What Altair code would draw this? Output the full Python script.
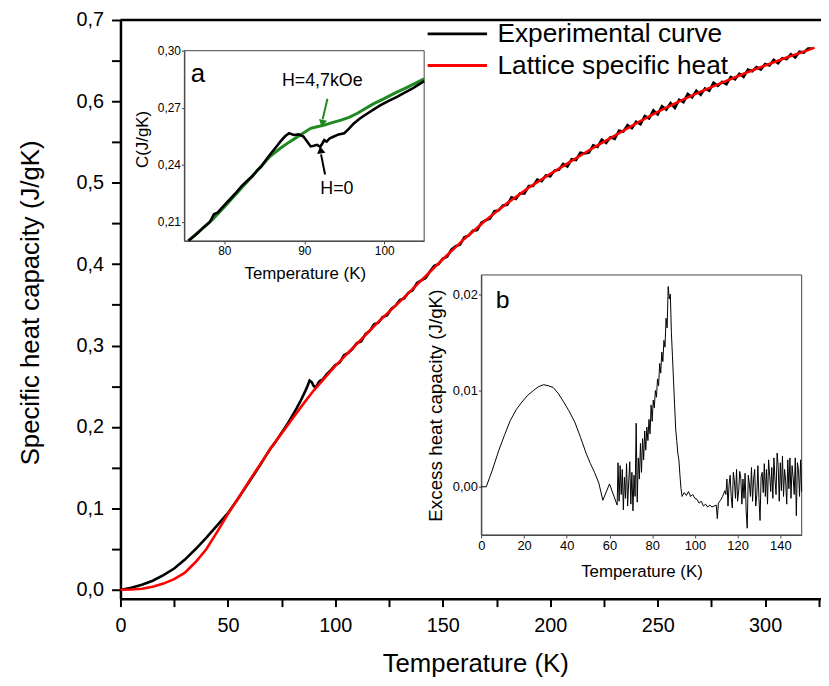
import altair as alt
import pandas as pd

FONT = "Liberation Sans"
W, H = 707, 584

# ---------------- main chart data ----------------
T_exp_low = [0, 2, 5, 10, 15, 20, 25, 30, 35, 40, 45, 50, 55, 58, 60, 62, 65, 68, 70, 72, 73,
             75, 78, 80, 82, 84, 86, 87, 88, 89, 90, 90.7, 91.5, 92, 93, 94, 96, 98]
C_exp_low = [0, 0.0008, 0.0025, 0.006, 0.011, 0.018, 0.026, 0.037, 0.050, 0.064, 0.079, 0.094,
             0.113, 0.125, 0.133, 0.141, 0.153, 0.166, 0.174, 0.181, 0.185,
             0.193, 0.205, 0.214, 0.223, 0.233, 0.244, 0.250, 0.257, 0.255, 0.250, 0.249, 0.251,
             0.254, 0.257, 0.258, 0.265, 0.270]
T_exp_high = list(range(100, 324, 2))
C_exp_high = [0.276, 0.279, 0.288, 0.291, 0.296, 0.303, 0.305, 0.314, 0.318, 0.326,
              0.328, 0.335, 0.337, 0.345, 0.349, 0.356, 0.358, 0.365, 0.368, 0.377,
              0.380, 0.383, 0.391, 0.398, 0.400, 0.407, 0.409, 0.418, 0.422, 0.424,
              0.433, 0.435, 0.441, 0.442, 0.451, 0.454, 0.456, 0.465, 0.466, 0.472,
              0.473, 0.482, 0.480, 0.487, 0.487, 0.496, 0.496, 0.504, 0.502, 0.509,
              0.508, 0.515, 0.516, 0.523, 0.520, 0.529, 0.528, 0.537, 0.536, 0.537,
              0.546, 0.544, 0.553, 0.549, 0.556, 0.554, 0.564, 0.563, 0.571, 0.567,
              0.575, 0.572, 0.582, 0.579, 0.589, 0.584, 0.594, 0.590, 0.598, 0.592,
              0.602, 0.599, 0.609, 0.605, 0.613, 0.608, 0.616, 0.613, 0.623, 0.619,
              0.624, 0.621, 0.630, 0.627, 0.634, 0.630, 0.639, 0.637, 0.642, 0.639,
              0.646, 0.644, 0.651, 0.647, 0.653, 0.652, 0.658, 0.654, 0.661, 0.660,
              0.665, 0.665]
T_exp = T_exp_low + T_exp_high
C_exp = C_exp_low + C_exp_high

T_lat = [0, 5, 10, 15, 20, 25, 30, 35, 40, 45, 50, 55, 60, 65, 70, 75, 80, 85, 90, 95, 100,
         110, 120, 130, 140, 150, 160, 170, 180, 190, 200, 210, 220, 230, 240, 250, 260, 270,
         280, 290, 300, 310, 320, 323]
C_lat = [0, 0.0003, 0.0012, 0.0035, 0.0075, 0.013, 0.021, 0.034, 0.050, 0.071, 0.093, 0.113,
         0.134, 0.154, 0.174, 0.192, 0.210, 0.228, 0.245, 0.260, 0.275,
         0.302, 0.329, 0.354, 0.380, 0.406, 0.431, 0.454, 0.475, 0.494, 0.511, 0.527, 0.543,
         0.558, 0.573, 0.587, 0.600, 0.612, 0.623, 0.634, 0.644, 0.654, 0.663, 0.666]

series_names = ["Experimental curve", "Lattice specific heat"]
x_ticks_main = [0, 25, 50, 75, 100, 125, 150, 175, 200, 225, 250, 275, 300, 325]
y_ticks_main = [0, 0.05, 0.1, 0.15, 0.2, 0.25, 0.3, 0.35, 0.4, 0.45, 0.5, 0.55, 0.6, 0.65, 0.7]

# ---------------- inset a data ----------------
A_T_black = [75.5, 76.5, 77.5, 78.2, 78.7, 79.2, 79.6, 80.5, 81.5, 82.2, 82.8, 83.5, 84.2, 84.6,
             85.2, 85.7, 86.5, 87.0, 87.6, 88.1, 88.7, 89.3, 89.9, 90.4, 90.8, 91.2, 91.6, 92.0,
             92.3, 92.5, 92.8, 93.2, 93.7, 94.3, 95.0, 95.6, 96.2, 97.0, 97.9, 98.7, 99.5, 100.5,
             101.6, 102.5, 103.5, 104.3, 105.0]
A_C_black = [0.2001, 0.2035, 0.2075, 0.2100, 0.2140, 0.2150, 0.2170, 0.2210, 0.2255, 0.2290,
             0.2314, 0.2340, 0.2375, 0.2390, 0.2425, 0.2453, 0.2495, 0.2522, 0.2550, 0.2566,
             0.2557, 0.2560, 0.2549, 0.2520, 0.2497, 0.2500, 0.2505, 0.2495, 0.2515, 0.2530,
             0.2522, 0.2540, 0.2549, 0.2560, 0.2566, 0.2590, 0.2618, 0.2645, 0.2670, 0.2692,
             0.2713, 0.2735, 0.2757, 0.2778, 0.2800, 0.2822, 0.2840]
A_T_green = [75.5, 77, 78.5, 80, 81.5, 83, 84.5, 85.7, 87.0, 88.2, 89.5, 90.8, 91.6, 92.5, 93.5,
             94.6, 95.6, 96.6, 97.6, 98.7, 100.0, 101.2, 103.0, 105.0]
A_C_green = [0.2000, 0.2055, 0.2112, 0.2178, 0.2248, 0.2318, 0.2388, 0.2444, 0.2487, 0.2522,
             0.2557, 0.2592, 0.2600, 0.2609, 0.2622, 0.2635, 0.2650, 0.2670, 0.2695, 0.2722,
             0.2748, 0.2774, 0.2810, 0.2852]

# ---------------- inset b data ----------------
B_T_smooth = [0, 2.3, 5.1, 8.2, 10.9, 13.6, 16.3, 19.0, 21.7, 24.4, 26.8, 29.1, 31.4, 33.7,
              36.0, 38.3, 41.0, 43.8, 46.5, 49.2, 51.1, 53.0, 55.0, 56.9, 60.0, 63.6]
B_E_smooth = [0, 0, 0.0017, 0.0038, 0.0054, 0.0069, 0.0080, 0.0088, 0.0095, 0.0100, 0.0104,
              0.0106, 0.0105, 0.0103, 0.0097, 0.0089, 0.0079, 0.0067, 0.0051, 0.0034, 0.0024,
              0.0015, 0.0004, -0.0014, 0.0003, -0.0019]
B_T_peak = [64 + 0.5 * i for i in range(50)]
B_E_peak = [0.0025, -0.0015, 0.0022, -0.0008, 0.0018, -0.0024, 0.0010, -0.0012, 0.0024, -0.0020,
            0.0005, 0.0026, -0.0018, 0.0015, -0.0025, 0.0012, -0.0010, 0.0066, -0.0016, 0.0030,
            0.0008, 0.0045, 0.0015, 0.0050, 0.0028, 0.0058, 0.0038, 0.0062, 0.0048, 0.0070,
            0.0055, 0.0085, 0.0068, 0.0090, 0.0082, 0.0100, 0.0093, 0.0112, 0.0105, 0.0128,
            0.0118, 0.0140, 0.0130, 0.0152, 0.0145, 0.0175, 0.0165, 0.0208, 0.0195, 0.0200]
B_T_fall = [89.0, 89.5, 90.0, 90.5, 91.0, 91.5, 92.0, 92.5, 93.0, 93.5, 94, 95, 96, 97, 98, 99,
            100, 101, 102, 103, 104, 105, 106, 107, 108, 109, 110, 110.5, 111, 112, 113, 114, 114.5]
B_E_fall = [0.0160, 0.0135, 0.0110, 0.0085, 0.0060, 0.0048, 0.0035, 0.0028, 0.0012, -0.0002,
            -0.0010, -0.0006, -0.0009, -0.0005, -0.0010, -0.0008, -0.0012, -0.0013, -0.0017,
            -0.0015, -0.0020, -0.0018, -0.0021, -0.0019, -0.0021, -0.0020, -0.0019, -0.0033,
            -0.0017, -0.0014, -0.0010, -0.0004, -0.0008]
B_T_tail = [115 + 0.5 * i for i in range(71)]
B_E_tail = [0.0008, -0.0020, 0.0002, 0.0012, -0.0010, -0.0022, 0.0015, 0.0006, -0.0012, 0.0018,
            -0.0015, -0.0004, 0.0016, 0.0009, -0.0018, 0.0008, -0.0012, 0.0014, -0.0025, -0.0043,
            0.0012, 0.0003, -0.0010, 0.0020, -0.0015, 0.0008, 0.0018, -0.0020, -0.0008, 0.0022,
            -0.0012, -0.0035, 0.0010, 0.0015, -0.0006, 0.0024, -0.0010, 0.0018, -0.0018, 0.0028,
            0.0012, -0.0005, 0.0020, -0.0012, 0.0030, 0.0008, -0.0008, 0.0035, 0.0022, -0.0015,
            0.0025, -0.0004, 0.0032, -0.0010, 0.0018, 0.0006, -0.0018, 0.0028, -0.0002, 0.0030,
            -0.0012, 0.0022, 0.0010, -0.0008, 0.0030, -0.0030, 0.0025, 0.0018, -0.0010, 0.0028,
            -0.0005]
B_T = B_T_smooth + B_T_peak + B_T_fall + B_T_tail
B_E = B_E_smooth + B_E_peak + B_E_fall + B_E_tail

# ---------------- main layer ----------------
main_df = pd.DataFrame({
    "T": T_exp + T_lat,
    "C": C_exp + C_lat,
    "series": [series_names[0]] * len(T_exp) + [series_names[1]] * len(T_lat),
})

comma1 = "replace(format(datum.value, '.1f'), '.', ',')"
main_lines = alt.Chart(main_df).mark_line(strokeWidth=2.6).encode(
    x=alt.X("T:Q", scale=alt.Scale(domain=[0, 326], nice=False, zero=False),
            axis=alt.Axis(orient="bottom", values=x_ticks_main,
                          labelExpr="datum.value % 50 == 0 ? datum.label : ''",
                          tickSize=8, tickWidth=2, tickColor="black", domainWidth=2.5,
                          domainColor="black", labelFontSize=20, labelPadding=9,
                          labelColor="black", labelFlush=False, labelOverlap=False,
                          title="Temperature (K)", titleFontSize=26, titleColor="black",
                          titleX=358, titleY=74, titleBaseline="alphabetic")),
    y=alt.Y("C:Q", scale=alt.Scale(domain=[-0.011, 0.7], nice=False, zero=False),
            axis=alt.Axis(orient="left", values=y_ticks_main,
                          labelExpr="round(datum.value * 100) % 10 == 0 ? " + comma1 + " : ''",
                          tickSize=9, tickWidth=2, tickColor="black", domainWidth=2.5,
                          domainColor="black", labelFontSize=20, labelPadding=8,
                          labelColor="black", labelFlush=False, labelOverlap=False,
                          title="Specific heat capacity (J/gK)", titleFontSize=26,
                          titleColor="black", titleAngle=270, titleX=-91, titleY=285,
                          titleBaseline="middle")),
    color=alt.Color("series:N",
                    scale=alt.Scale(domain=series_names, range=["black", "red"]),
                    legend=alt.Legend(orient="none", legendX=308.5, legendY=-1, title=None,
                                      symbolType="stroke", symbolSize=3600,
                                      symbolStrokeWidth=3, clipHeight=30, rowPadding=2,
                                      labelFontSize=26.5, labelLimit=400, labelOffset=9,
                                      labelColor="black")),
)

top_border = alt.Chart(pd.DataFrame({"k": [0]})).mark_rule(color="black", strokeWidth=2.5).encode(
    x=alt.value(0), x2=alt.value(W), y=alt.value(0))

main = alt.layer(main_lines, top_border)

# ---------------- inset a ----------------
xa = alt.Scale(domain=[75, 105], range=[64.5, 306.5], nice=False, zero=False)
ya = alt.Scale(domain=[0.20, 0.30], range=[223, 31], nice=False, zero=False)
comma2 = "replace(format(datum.value, '.2f'), '.', ',')"

a_green = alt.Chart(pd.DataFrame({"T": A_T_green, "C": A_C_green})).mark_line(
    color="#1f8a1f", strokeWidth=3).encode(
    x=alt.X("T:Q", scale=xa,
            axis=alt.Axis(orient="bottom", offset=223 - H, values=[80, 90, 100], tickSize=3,
                          tickColor="#444", domainColor="#444", domainWidth=1,
                          labelFontSize=12, labelPadding=2, labelColor="black",
                          labelFlush=False, title="Temperature (K)", titleFontSize=17,
                          titleColor="black", titleX=186, titleY=33, titleBaseline="middle")),
    y=alt.Y("C:Q", scale=ya,
            axis=alt.Axis(orient="left", offset=-64.5, values=[0.21, 0.24, 0.27, 0.30],
                          labelExpr=comma2, tickSize=3, tickColor="#444", domainColor="#444",
                          domainWidth=1, labelFontSize=12, labelPadding=1, labelColor="black",
                          labelFlush=False, title="C(J/gK)", titleFontSize=17,
                          titleColor="black", titleAngle=270, titleX=-42, titleY=120,
                          titleBaseline="middle")),
)
a_black = alt.Chart(pd.DataFrame({"T": A_T_black, "C": A_C_black})).mark_line(
    color="black", strokeWidth=2.6).encode(x=alt.X("T:Q", scale=xa), y=alt.Y("C:Q", scale=ya))

a_frame = alt.Chart(pd.DataFrame({"T": [75], "T2": [105], "C": [0.20], "C2": [0.30]})).mark_rect(
    fillOpacity=0, stroke="#444", strokeWidth=1).encode(
    x=alt.X("T:Q", scale=xa), x2="T2:Q", y=alt.Y("C:Q", scale=ya), y2="C2:Q")

arrow_df = pd.DataFrame({"T": [92.9, 92.6], "C": [0.2748, 0.2349],
                         "T2": [92.3, 92.1], "C2": [0.2640, 0.2455],
                         "col": ["#1f8a1f", "black"]})
a_arrows = alt.Chart(arrow_df).mark_rule(strokeWidth=2).encode(
    x=alt.X("T:Q", scale=xa), x2="T2:Q", y=alt.Y("C:Q", scale=ya), y2="C2:Q",
    color=alt.Color("col:N", scale=None))
a_head_g = alt.Chart(pd.DataFrame({"T": [92.26], "C": [0.2618]})).mark_point(
    shape="triangle-down", filled=True, size=70, color="#1f8a1f", angle=11, opacity=1).encode(
    x=alt.X("T:Q", scale=xa), y=alt.Y("C:Q", scale=ya))
a_head_k = alt.Chart(pd.DataFrame({"T": [92.05], "C": [0.2479]})).mark_point(
    shape="triangle-up", filled=True, size=70, color="black", angle=350, opacity=1).encode(
    x=alt.X("T:Q", scale=xa), y=alt.Y("C:Q", scale=ya))

a_text_df = pd.DataFrame({"T": [75.8, 87.2, 92.0], "C": [0.2878, 0.2840, 0.2271],
                          "label": ["a", "H=4,7kOe", "H=0"], "size": [26, 18, 18]})
a_texts = alt.Chart(a_text_df).mark_text(align="left", baseline="middle", color="black").encode(
    x=alt.X("T:Q", scale=xa), y=alt.Y("C:Q", scale=ya), text="label:N",
    size=alt.Size("size:Q", scale=None))

insetA = alt.layer(a_frame, a_green, a_black, a_arrows, a_head_g, a_head_k, a_texts)

# ---------------- inset b ----------------
xb = alt.Scale(domain=[0, 150], range=[364.2, 687.5], nice=False, zero=False)
yb = alt.Scale(domain=[-0.005, 0.022], range=[519.7, 257.3], nice=False, zero=False)

b_line = alt.Chart(pd.DataFrame({"T": B_T, "E": B_E})).mark_line(
    color="black", strokeWidth=1).encode(
    x=alt.X("T:Q", scale=xb,
            axis=alt.Axis(orient="bottom", offset=519.7 - H,
                          values=[0, 20, 40, 60, 80, 100, 120, 140], tickSize=3,
                          tickColor="#444", domainColor="#444", domainWidth=1,
                          labelFontSize=13, labelPadding=2, labelColor="black",
                          labelFlush=False, title="Temperature (K)", titleFontSize=17,
                          titleColor="black", titleX=525.8, titleY=36.6,
                          titleBaseline="middle")),
    y=alt.Y("E:Q", scale=yb,
            axis=alt.Axis(orient="left", offset=-364.2, values=[0, 0.01, 0.02],
                          labelExpr=comma2, tickSize=3, tickColor="#444", domainColor="#444",
                          domainWidth=1, labelFontSize=13, labelPadding=1, labelColor="black",
                          labelFlush=False, title="Excess heat capacity (J/gK)",
                          titleFontSize=19, titleColor="black", titleAngle=270,
                          titleX=-46.4, titleY=388.7, titleBaseline="middle")),
)
b_frame = alt.Chart(pd.DataFrame({"T": [0], "T2": [150], "E": [-0.005], "E2": [0.022]})).mark_rect(
    fillOpacity=0, stroke="#444", strokeWidth=1).encode(
    x=alt.X("T:Q", scale=xb), x2="T2:Q", y=alt.Y("E:Q", scale=yb), y2="E2:Q")
b_text = alt.Chart(pd.DataFrame({"T": [6.7], "E": [0.0194], "label": ["b"]})).mark_text(
    align="left", baseline="middle", color="black", fontSize=25).encode(
    x=alt.X("T:Q", scale=xb), y=alt.Y("E:Q", scale=yb), text="label:N")

insetB = alt.layer(b_frame, b_line, b_text)

chart = alt.layer(main, insetA, insetB).resolve_scale(
    x="independent", y="independent", color="independent"
).properties(
    width=W, height=H,
    padding={"left": 113.5, "top": 9, "right": 0, "bottom": 80},
    autosize=alt.AutoSizeParams(type="none"),
).configure_view(strokeWidth=0).configure_axis(
    grid=False, labelFont=FONT, titleFont=FONT, titleFontWeight="normal"
).configure_text(font=FONT).configure_legend(labelFont=FONT)

chart.save("out.html", embed_options={"renderer": "svg", "actions": False})
